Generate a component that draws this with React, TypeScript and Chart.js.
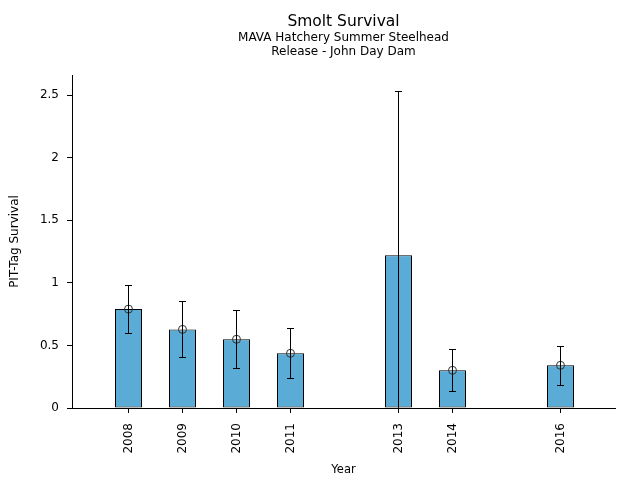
import { useEffect, useRef } from "react";
import { Chart, registerables } from "chart.js";

Chart.register(...registerables);

const years = [2008, 2009, 2010, 2011, 2013, 2014, 2016];
const survival = [0.79, 0.628, 0.549, 0.437, 1.22, 0.301, 0.341];
const errLower = [0.597, 0.405, 0.317, 0.237, -0.09, 0.133, 0.182];
const errUpper = [0.98, 0.852, 0.78, 0.636, 2.53, 0.469, 0.493];
const markerValues: (number | null)[] = [0.79, 0.628, 0.549, 0.437, null, 0.301, 0.341];
const yTicks = [0, 0.5, 1, 1.5, 2, 2.5];
const titleText = "Smolt Survival";
const subtitleLines = ["MAVA Hatchery Summer Steelhead", "Release - John Day Dam"];
const xLabel = "Year";
const yLabel = "PIT-Tag Survival";

const FONT = "'DejaVu Sans', sans-serif";

const errorBarPlugin = {
  id: "errorBars",
  afterDatasetsDraw(chart: any) {
    const { ctx, chartArea, scales } = chart;
    const xs = scales.x;
    const ys = scales.y;
    ctx.save();
    ctx.beginPath();
    ctx.rect(chartArea.left, chartArea.top, chartArea.right - chartArea.left, chartArea.bottom - chartArea.top);
    ctx.clip();
    ctx.strokeStyle = "#000";
    ctx.lineWidth = 1;
    const cap = 3.5;
    years.forEach((yr, i) => {
      const px = Math.floor(xs.getPixelForValue(yr)) + 0.5;
      const pLo = ys.getPixelForValue(errLower[i]);
      const pHi = ys.getPixelForValue(errUpper[i]);
      ctx.beginPath();
      ctx.moveTo(px, pLo);
      ctx.lineTo(px, pHi);
      ctx.moveTo(px - cap, Math.round(pHi) + 0.5);
      ctx.lineTo(px + cap, Math.round(pHi) + 0.5);
      ctx.moveTo(px - cap, Math.round(pLo) + 0.5);
      ctx.lineTo(px + cap, Math.round(pLo) + 0.5);
      ctx.stroke();
    });
    ctx.restore();
  },
};

const titlePlugin = {
  id: "centeredTitles",
  afterDraw(chart: any) {
    const { ctx, chartArea } = chart;
    const cx = (chartArea.left + chartArea.right) / 2;
    ctx.save();
    ctx.fillStyle = "#000";
    ctx.textAlign = "center";
    ctx.textBaseline = "middle";
    ctx.font = `15.5px ${FONT}`;
    ctx.fillText(titleText, cx, 22);
    ctx.font = `12px ${FONT}`;
    subtitleLines.forEach((line, i) => {
      ctx.fillText(line, cx, 38 + i * 14);
    });
    ctx.restore();
  },
};

export default function App() {
  const ref = useRef<HTMLCanvasElement | null>(null);

  useEffect(() => {
    if (!ref.current) return;
    Chart.defaults.font.family = FONT;
    Chart.defaults.color = "#000";
    const chart = new Chart(ref.current, {
      type: "bar",
      data: {
        datasets: [
          {
            type: "scatter",
            data: years
              .map((x, i) => ({ x, y: markerValues[i] }))
              .filter((p) => p.y !== null) as any,
            pointStyle: "circle",
            pointRadius: 4,
            pointBorderWidth: 1,
            backgroundColor: "rgba(0,0,0,0)",
            borderColor: "#333",
            order: 0,
          } as any,
          {
            type: "bar",
            data: years.map((x, i) => ({ x, y: survival[i] })) as any,
            backgroundColor: "#5aacd6",
            borderColor: "#000",
            borderWidth: 1,
            borderSkipped: false,
            categoryPercentage: 1,
            barPercentage: 0.5,
            order: 1,
          } as any,
        ],
      },
      options: {
        animation: false,
        responsive: true,
        maintainAspectRatio: false,
        layout: { padding: { top: 75, right: 25, left: 0, bottom: 0 } },
        plugins: {
          legend: { display: false },
          tooltip: { enabled: false },
          title: { display: false },
        },
        scales: {
          x: {
            type: "linear",
            min: 2006.9537,
            max: 2017.0093,
            offset: false,
            afterBuildTicks: (s: any) => {
              s.ticks = years.map((v) => ({ value: v }));
            },
            afterFit: (s: any) => {
              s.height = 72;
            },
            ticks: {
              callback: (v: any) => String(v),
              minRotation: 90,
              maxRotation: 90,
              autoSkip: false,
              font: { size: 12 },
              padding: 10,
              color: "#000",
            },
            grid: {
              offset: false,
              drawOnChartArea: false,
              drawTicks: true,
              tickLength: 5,
              tickColor: "#000",
            },
            border: { color: "#000", width: 1 },
            title: {
              display: true,
              text: xLabel,
              font: { size: 11.5 },
              color: "#000",
              padding: { top: 4, bottom: 3 },
            },
          } as any,
          y: {
            type: "linear",
            min: 0,
            max: 2.66,
            afterBuildTicks: (s: any) => {
              s.ticks = yTicks.map((v) => ({ value: v }));
            },
            afterFit: (s: any) => {
              s.width = 72;
            },
            ticks: {
              callback: (v: any) => String(v),
              font: { size: 12 },
              padding: 8,
              color: "#000",
            },
            grid: {
              drawOnChartArea: false,
              drawTicks: true,
              tickLength: 5,
              tickColor: "#000",
            },
            border: { color: "#000", width: 1 },
            title: {
              display: true,
              text: yLabel,
              font: { size: 12 },
              color: "#000",
              padding: { top: 8, bottom: 0 },
            },
          } as any,
        },
      },
      plugins: [errorBarPlugin, titlePlugin],
    });
    return () => chart.destroy();
  }, []);

  return (
    <div style={{ position: "absolute", left: 0, top: 0, width: 640, height: 480, background: "#fff" }}>
      <canvas ref={ref} />
    </div>
  );
}
